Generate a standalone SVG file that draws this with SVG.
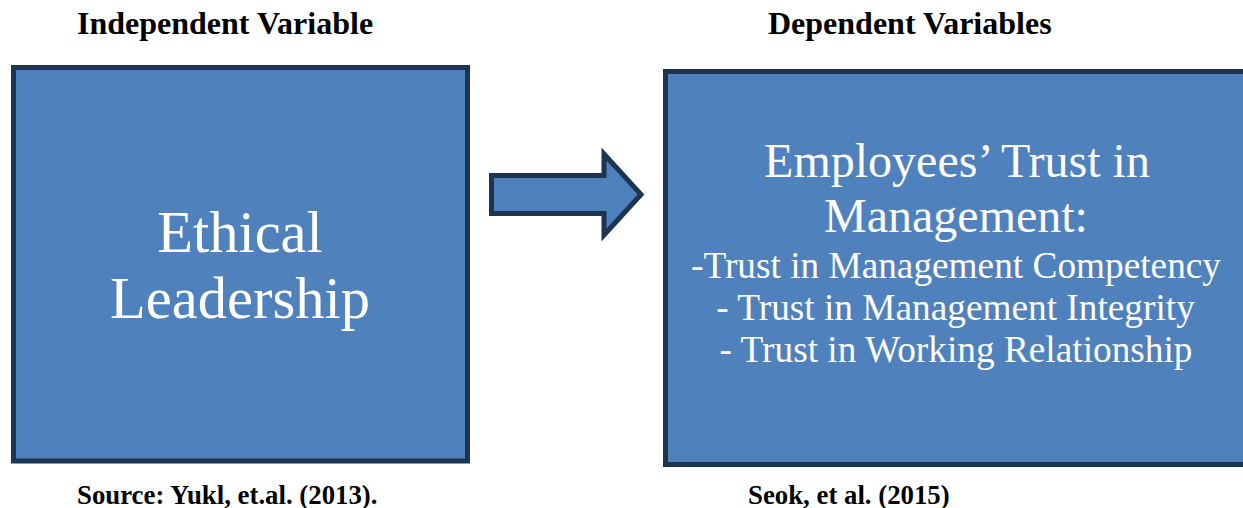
<svg xmlns="http://www.w3.org/2000/svg" width="1243" height="508" viewBox="0 0 1243 508">
<style>
.box{fill:#4F81BD;stroke:#1D3452;stroke-width:5}
.hd{font-family:"Liberation Serif","Times New Roman",serif;font-weight:bold;font-size:32px;fill:#000}
.src{font-family:"Liberation Serif","Times New Roman",serif;font-weight:bold;font-size:26.8px;fill:#000}
.big{font-family:"Liberation Serif","Times New Roman",serif;fill:#fff;text-anchor:middle}
</style>
<rect width="1243" height="508" fill="#fff"/>
<g id="heading-independent"><text class="hd" x="77" y="34">Independent Variable</text></g>
<g id="heading-dependent"><text class="hd" x="768" y="34">Dependent Variables</text></g>
<g id="node-ethical">
<rect class="box" x="13.5" y="67.5" width="454" height="393.5"/>
<text class="big" font-size="58.5" x="240" y="252">Ethical</text>
<text class="big" font-size="58.5" x="240" y="318">Leadership</text>
</g>
<g id="node-trust">
<rect class="box" x="665.5" y="71.5" width="600" height="393"/>
<text class="big" font-size="48" x="957" y="177">Employees’ Trust in</text>
<text class="big" font-size="48" x="956" y="232">Management:</text>
<text class="big" font-size="37.3" x="956" y="278">-Trust in Management Competency</text>
<text class="big" font-size="37.3" x="955.5" y="320">- Trust in Management Integrity</text>
<text class="big" font-size="37.3" x="956" y="362">- Trust in Working Relationship</text>
</g>
<g id="connectors">
<path class="box" stroke-linejoin="miter" d="M491.5,175.5 H604 V154 L641,194.5 L604,235 V213.5 H491.5 Z"/>
</g>
<g id="source-left"><text class="src" x="77" y="504">Source: Yukl, et.al. (2013).</text></g>
<g id="source-right"><text class="src" x="748" y="504">Seok, et al. (2015)</text></g>
</svg>
